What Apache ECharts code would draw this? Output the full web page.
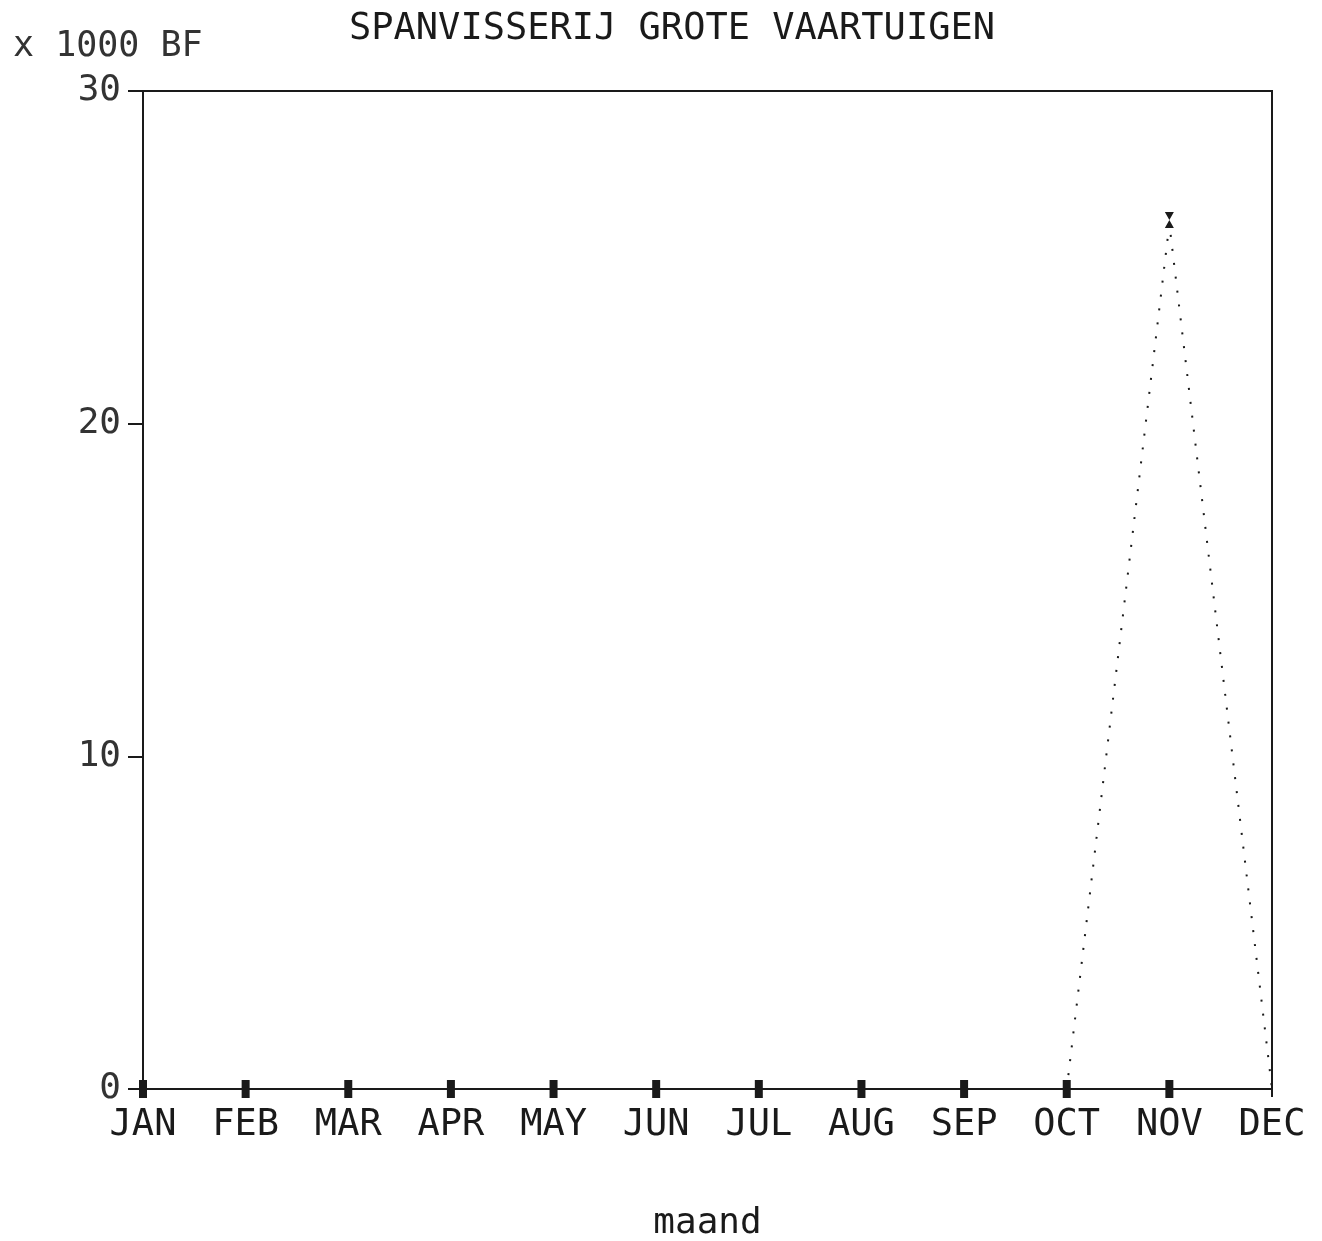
<!DOCTYPE html>
<html><head><meta charset="utf-8">
<script src="https://cdn.jsdelivr.net/npm/echarts@6/dist/echarts.min.js"></script>
<style>html,body{margin:0;padding:0;background:#fff}#c{width:1322px;height:1241px}</style>
</head><body><div id="c"></div>
<script>
const months = ['JAN','FEB','MAR','APR','MAY','JUN','JUL','AUG','SEP','OCT','NOV','DEC'];
const baseValues = [0,0,0,0,0,0,0,0,0,0,0,null];
const catchValues = [null,null,null,null,null,null,null,null,null,0,26,0];
const yTicks = [0,10,20,30];

const font = 'DejaVu Sans Mono';
const ink = '#1a1a1a';
const chart = echarts.init(document.getElementById('c'));
chart.setOption({
  backgroundColor: '#fff',
  animation: false,
  title: [
    {text: 'SPANVISSERIJ GROTE VAARTUIGEN', left: 344, top: 6,
     textStyle: {fontFamily: font, fontWeight: 'normal', fontSize: 37, color: ink}},
    {text: 'x 1000 BF', left: 8, top: 24,
     textStyle: {fontFamily: font, fontWeight: 'normal', fontSize: 35, color: '#333'}}
  ],
  grid: {left: 143, width: 1129, top: 91, height: 998, outerBoundsMode: 'none', containLabel: false,
         show: true, borderColor: ink, borderWidth: 2, backgroundColor: 'transparent'},
  xAxis: {
    type: 'category', data: months, boundaryGap: false,
    name: 'maand', nameLocation: 'middle', nameGap: 117,
    nameTextStyle: {fontFamily: font, fontSize: 36, color: ink},
    axisLine: {lineStyle: {color: ink, width: 2}},
    axisTick: {show: true, alignWithLabel: true, length: 8, lineStyle: {color: ink, width: 2}},
    axisLabel: {fontFamily: font, fontSize: 37, color: ink, margin: 18, interval: 0},
    splitLine: {show: false}
  },
  yAxis: {
    type: 'value', min: yTicks[0], max: yTicks[yTicks.length-1], interval: 10,
    axisLine: {show: true, lineStyle: {color: ink, width: 2}},
    axisTick: {show: true, length: 15, lineStyle: {color: ink, width: 2}},
    axisLabel: {fontFamily: font, fontSize: 36, color: '#333', margin: 22},
    splitLine: {show: false}
  },
  series: [
    {type: 'line', data: baseValues, symbol: 'rect', symbolSize: [8, 18], showAllSymbol: true,
     itemStyle: {color: ink}, lineStyle: {color: ink, width: 2}, z: 3},
    {type: 'line',
     data: catchValues.map((v, i) => v === null ? null : (i === 10 ? v : {value: v, symbol: 'none'})),
     symbol: 'path://M0,0 L10,0 L5,10 L10,20 L0,20 L5,10 Z', symbolSize: [9, 16],
     symbolOffset: [0, -4],
     showAllSymbol: true,
     itemStyle: {color: ink},
     lineStyle: {color: ink, width: 2, type: [2, 12]}, z: 4}
  ]
});
</script></body></html>
